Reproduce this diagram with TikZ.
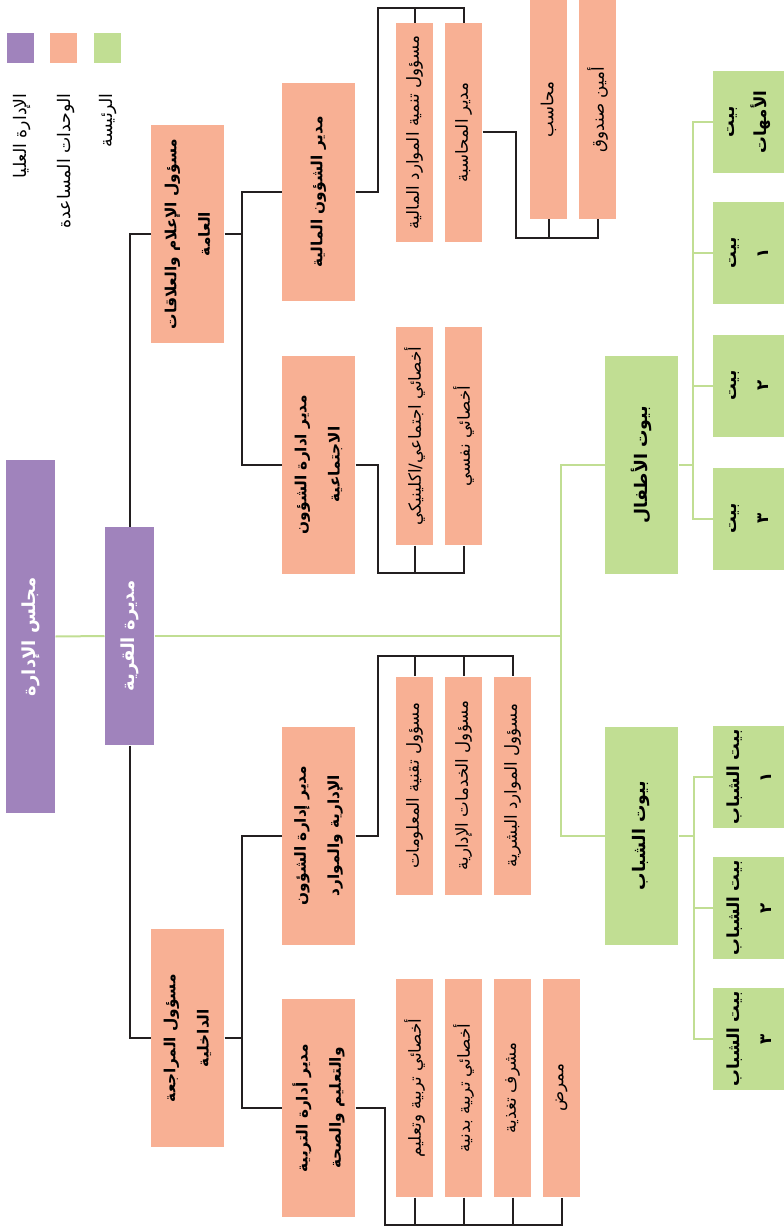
\documentclass[tikz,border=0pt]{standalone}
\usepackage{fontspec}
\newfontfamily\arabicfont[Script=Arabic]{DejaVu Sans}
\TeXXeTstate=1
\definecolor{topclr}{RGB}{160,131,188}
\definecolor{subclr}{RGB}{248,176,148}
\definecolor{mainclr}{RGB}{193,222,147}
\definecolor{lineclr}{RGB}{35,31,32}
\newcommand{\artxt}[1]{\beginR #1\endR}

\tikzset{every picture/.style={line width=0.75pt}}
\tikzset{
  box/.style={rotate=90, inner sep=0pt, align=center, draw=none,
    font=\arabicfont\fontsize{12.5}{24}\selectfont},
  topbox/.style={box, fill=topclr, text=white, minimum height=36.75pt,
    font=\arabicfont\bfseries\fontsize{13.5}{24}\selectfont},
  unitbox/.style={box, fill=subclr, minimum height=54.75pt, minimum width=163.5pt,
    font=\arabicfont\bfseries\fontsize{11.5}{25}\selectfont},
  leafbox/.style={box, fill=subclr, minimum height=27.75pt, minimum width=163.5pt},
  hubbox/.style={box, fill=mainclr, minimum height=54.75pt, minimum width=163.5pt,
    font=\arabicfont\bfseries\fontsize{13}{24}\selectfont},
  housebox/.style={box, fill=mainclr, minimum height=54pt, minimum width=76.5pt,
    font=\arabicfont\bfseries\fontsize{12.5}{24}\selectfont},
  legtext/.style={box, anchor=east, font=\arabicfont\fontsize{13}{24}\selectfont},
  blk/.style={draw=lineclr, line width=1.5pt},
  grn/.style={draw=mainclr, line width=1.5pt},
}

\begin{document}
\begin{tikzpicture}[x=0.75pt,y=0.75pt,yscale=-1,xscale=1]
\useasboundingbox (0,0) rectangle (783,1227);

% legend
\fill[topclr] (7,33) rectangle (34,63);
\fill[subclr] (50,33) rectangle (77,63);
\fill[mainclr] (94,33) rectangle (121,63);
\node[legtext] (lg1) at (22,93) {\artxt{الإدارة العليا}};
\node[legtext] (lg2) at (66,93) {\artxt{الوحدات المساعدة}};
\node[legtext] (lg3) at (108,93) {\artxt{الرئيسة}};

% top management
\node[topbox, minimum width=264.75pt] (board) at (30.5,636.5) {\artxt{مجلس الإدارة}};
\node[topbox, minimum width=163.5pt] (mudira) at (129.5,636) {\artxt{مديرة القرية}};

% upper branch
\node[unitbox] (ilam) at (187.5,234) {\artxt{مسؤول الإعلام والعلاقات}\\\artxt{العامة}};
\node[unitbox] (mali) at (318.5,192) {\artxt{مدير الشؤون المالية}};
\node[unitbox] (ijt) at (318.5,464.5) {\artxt{مدير ادارة الشؤون}\\\artxt{الاجتماعية}};
\node[leafbox] (tanmia) at (414.5,132.5) {\artxt{مسؤول تنمية الموارد المالية}};
\node[leafbox] (muhasaba) at (463.5,132.5) {\artxt{مدير المحاسبة}};
\node[leafbox] (muhasib) at (548.5,109.5) {\artxt{محاسب}};
\node[leafbox] (amin) at (597.5,109.5) {\artxt{أمين صندوق}};
\node[leafbox] (ikl) at (414.5,436) {\artxt{أخصائي اجتماعي/اكلينيكي}};
\node[leafbox] (nafsi) at (463.5,436) {\artxt{أخصائي نفسي}};

% lower branch
\node[unitbox] (muraja) at (187.5,1038) {\artxt{مسؤول المراجعة}\\\artxt{الداخلية}};
\node[unitbox] (idari) at (318.5,835.5) {\artxt{مدير إدارة الشؤون}\\\artxt{الإدارية والموارد}};
\node[unitbox] (tarbia) at (318.5,1108) {\artxt{مدير أدارة التربية}\\\artxt{والتعليم والصحة}};
\node[leafbox] (tech) at (414.5,785.5) {\artxt{مسؤول تقنية المعلومات}};
\node[leafbox] (khadamat) at (463.5,785.5) {\artxt{مسؤول الخدمات الإدارية}};
\node[leafbox] (bashar) at (512.5,785.5) {\artxt{مسؤول الموارد البشرية}};
\node[leafbox] (tl1) at (414.5,1088) {\artxt{أخصائي تربية وتعليم}};
\node[leafbox] (tl2) at (463.5,1088) {\artxt{أخصائي تربية بدنية}};
\node[leafbox] (tl3) at (512.5,1088) {\artxt{مشرف تغذية}};
\node[leafbox] (tl4) at (561.5,1088) {\artxt{ممرض}};

% houses
\node[hubbox] (kids) at (641.5,464.5) {\artxt{بيوت الأطفال}};
\node[hubbox] (youth) at (641.5,835.5) {\artxt{بيوت الشباب}};
\node[housebox] (h0) at (749,122) {\artxt{بيت}\\\artxt{الأمهات}};
\node[housebox] (h1) at (749,253) {\artxt{بيت}\\\artxt{١}};
\node[housebox] (h2) at (749,385.5) {\artxt{بيت}\\\artxt{٢}};
\node[housebox] (h3) at (749,518.5) {\artxt{بيت}\\\artxt{٣}};
\node[housebox] (y1) at (749,777) {\artxt{بيت الشباب}\\\artxt{١}};
\node[housebox] (y2) at (749,908) {\artxt{بيت الشباب}\\\artxt{٢}};
\node[housebox] (y3) at (749,1039) {\artxt{بيت الشباب}\\\artxt{٣}};

% bus points
\coordinate (gb) at (561,636);
\coordinate (kb) at (693,0);
\coordinate (yb) at (694,0);
\coordinate (ub) at (242,0);
\coordinate (fb) at (378,8);
\coordinate (cb) at (516,238);
\coordinate (sb) at (378,573);
\coordinate (ab) at (378,656);
\coordinate (eb) at (385,1225);

% green connectors
\draw[grn] (board.south) -- (mudira.north);
\draw[grn] (mudira.south) -- (gb);
\draw[grn] (kids.north) -| (gb) |- (youth.north);
\draw[grn] (kids.south) -- (kids.south -| kb);
\draw[grn] (h0.north) -| (kb |- h3.north) -- (h3.north);
\draw[grn] (h1.north) -- (h1.north -| kb);
\draw[grn] (h2.north) -- (h2.north -| kb);
\draw[grn] (youth.south) -- (youth.south -| yb);
\draw[grn] (y1.north) -| (yb |- y3.north) -- (y3.north);
\draw[grn] (y2.north) -- (y2.north -| yb);

% black connectors
\draw[blk] (mudira.east) |- (ilam.north);
\draw[blk] (mudira.west) |- (muraja.north);
\draw[blk] (ilam.south) -- (ilam.south -| ub);
\draw[blk] (mali.north) -| (ub |- ijt.north) -- (ijt.north);
\draw[blk] (mali.south) -| (fb) -| (muhasaba.east);
\draw[blk] (tanmia.east) -- (tanmia.east |- fb);
\draw[blk] (muhasaba.south) -| (cb) -| (amin.west);
\draw[blk] (muhasib.west) -- (muhasib.west |- cb);
\draw[blk] (ijt.south) -| (sb) -| (nafsi.west);
\draw[blk] (ikl.west) -- (ikl.west |- sb);
\draw[blk] (muraja.south) -- (muraja.south -| ub);
\draw[blk] (idari.north) -| (ub |- tarbia.north) -- (tarbia.north);
\draw[blk] (idari.south) -| (ab) -| (bashar.east);
\draw[blk] (tech.east) -- (tech.east |- ab);
\draw[blk] (khadamat.east) -- (khadamat.east |- ab);
\draw[blk] (tarbia.south) -| (eb) -| (tl4.west);
\draw[blk] (tl1.west) -- (tl1.west |- eb);
\draw[blk] (tl2.west) -- (tl2.west |- eb);
\draw[blk] (tl3.west) -- (tl3.west |- eb);

\end{tikzpicture}
\end{document}
